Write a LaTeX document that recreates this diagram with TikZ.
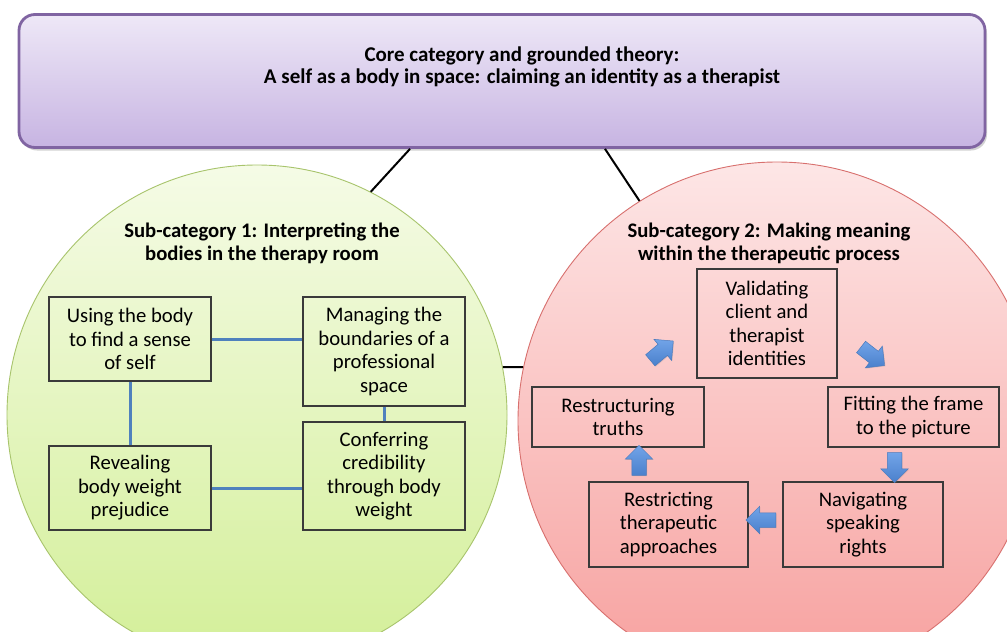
\documentclass[tikz,border=0pt]{standalone}
\usepackage{fontspec}
\setmainfont{Carlito}
\usetikzlibrary{shapes.arrows,shadows}

\definecolor{corepurple}{HTML}{8064A2}
\definecolor{coretop}{HTML}{EEE8F7}
\definecolor{corebottom}{HTML}{C7B4E2}
\definecolor{greentop}{HTML}{F5FBE6}
\definecolor{greenbottom}{HTML}{D3EF98}
\definecolor{greenborder}{HTML}{A8C46C}
\definecolor{redtop}{HTML}{FDE6E6}
\definecolor{redbottom}{HTML}{F7A09E}
\definecolor{redborder}{HTML}{D8706E}
\definecolor{linkblue}{HTML}{4F81BD}
\definecolor{arrowtop}{HTML}{72A4E8}
\definecolor{arrowbottom}{HTML}{4A80CC}
\definecolor{arrowline}{HTML}{4A7ABD}
\definecolor{boxline}{HTML}{3A3A3A}

\begin{document}
\begin{tikzpicture}[x=1pt,y=-1pt,
  corebox/.style={draw=corepurple, line width=2.8pt, rounded corners=16pt,
    top color=coretop, bottom color=corebottom,
    minimum width=966pt, minimum height=133pt,
    drop shadow={shadow xshift=2pt, shadow yshift=-3pt, opacity=0.35}},
  coretext/.style={font=\bfseries\fontsize{21}{22.5}\selectfont, align=center},
  subcircle/.style={circle, line width=0.9pt},
  titletext/.style={font=\bfseries\fontsize{20.7}{23}\selectfont, align=center},
  themebox/.style={draw=boxline, line width=1.2pt, align=center,
    font=\fontsize{20.7}{23.5}\selectfont, inner sep=0pt},
  link/.style={black, line width=2pt},
  blink/.style={linkblue, line width=3pt},
  barrow/.style={single arrow, draw=arrowline, line width=0.5pt,
    top color=arrowtop, bottom color=arrowbottom,
    minimum height=30pt, inner sep=7pt, single arrow head extend=6.5pt,
    drop shadow={shadow xshift=0.8pt, shadow yshift=-0.8pt, opacity=0.25}}]

\clip (0,0) rectangle (1007,632);
\fill[white] (0,0) rectangle (1007,632);

% the two sub-category circles
\node[subcircle, draw=greenborder, top color=greentop, bottom color=greenbottom,
  minimum size=500pt] (c1) at (257,415) {};
\node[subcircle, draw=redborder, top color=redtop, bottom color=redbottom,
  minimum size=518pt] (c2) at (777,421) {};

% core category box
\node[corebox] (core) at (502,81) {};
\node[coretext] (coret) at (522,67) {Core category and grounded theory:\\
  A self as a body in space: claiming an identity as a therapist};

% black connectors between the categories
\draw[link] ([xshift=-92pt]core.south) -- (c1.63);
\draw[link] ([xshift=103pt]core.south) -- (c2.122);
\draw[link] (c1.11) -- (c2.168);

% sub-category titles
\node[titletext] (t1) at (262,243) {Sub-category 1: Interpreting the\\bodies in the therapy room};
\node[titletext] (t2) at (769,243) {Sub-category 2: Making meaning\\within the therapeutic process};

% sub-category 1 themes
\node[themebox, minimum width=162pt, minimum height=84pt] (A) at (130,339)
  {Using the body\\to find a sense\\of self};
\node[themebox, minimum width=162pt, minimum height=109pt] (B) at (384,351.5)
  {Managing the\\boundaries of a\\professional\\space};
\node[themebox, minimum width=162pt, minimum height=84pt] (C) at (130,488)
  {Revealing\\body weight\\prejudice};
\node[themebox, minimum width=162pt, minimum height=108pt] (D) at (384,476)
  {Conferring\\credibility\\through body\\weight};

\draw[blink] (A.east) -- (A.east -| B.west);
\draw[blink] (A.south) -- (C.north);
\draw[blink] (B.south) -- (D.north);
\draw[blink] (C.east) -- (C.east -| D.west);

% sub-category 2 themes
\node[themebox, minimum width=140pt, minimum height=109pt] (V) at (767,323.5)
  {Validating\\client and\\therapist\\identities};
\node[themebox, minimum width=172pt, minimum height=60pt] (R) at (618,417)
  {Restructuring\\truths};
\node[themebox, minimum width=171pt, minimum height=60pt] (F) at (913.5,417)
  {Fitting the frame\\to the picture};
\node[themebox, minimum width=160pt, minimum height=85pt] (N) at (863,524.5)
  {Navigating\\speaking\\rights};
\node[themebox, minimum width=159pt, minimum height=85pt] (RA) at (668.5,524.5)
  {Restricting\\therapeutic\\approaches};

% cycle arrows
\node[barrow, rotate=40] (ar1) at (659,353) {};
\node[barrow, rotate=-38] (ar2) at (870,354) {};
\node[barrow, rotate=-90] (ar3) at (894.5,464) {};
\node[barrow, rotate=180] (ar4) at (764.5,520) {};
\node[barrow, rotate=90] (ar5) at (639,464) {};

\end{tikzpicture}
\end{document}
